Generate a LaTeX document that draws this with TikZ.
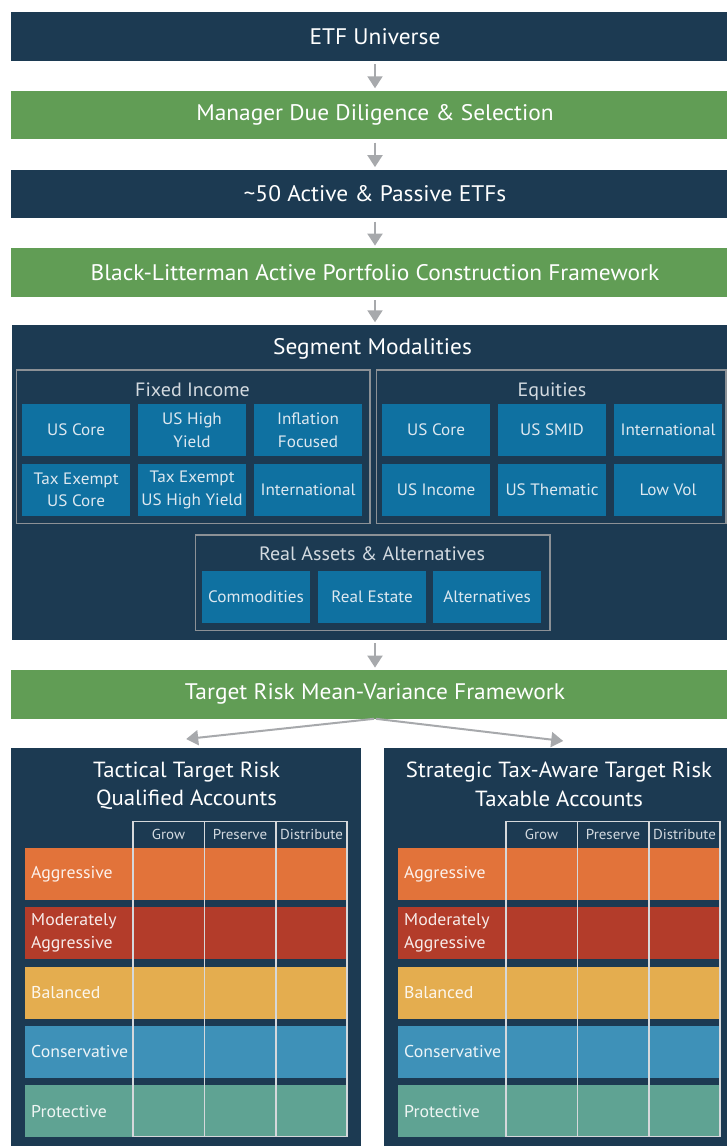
\documentclass[tikz,border=0pt]{standalone}
\usepackage{fontspec}
\setmainfont{PT Sans}[FakeStretch=1.04]
\usetikzlibrary{arrows.meta,calc}
\definecolor{navy}{HTML}{1C3A52}
\definecolor{bargreen}{HTML}{619D55}
\definecolor{cellblue}{HTML}{0F71A1}
\definecolor{grpgray}{HTML}{8C9196}
\definecolor{arrgray}{HTML}{A7A9AC}
\definecolor{gridgray}{HTML}{D5D8DB}
\definecolor{cagg}{HTML}{E2733A}
\definecolor{cmod}{HTML}{B33C2A}
\definecolor{cbal}{HTML}{E4AD4F}
\definecolor{ccon}{HTML}{3E91B8}
\definecolor{cpro}{HTML}{5FA393}
\definecolor{celltext}{HTML}{DDE8F0}
\definecolor{subtext}{HTML}{D3DAE0}
\begin{document}
\begin{tikzpicture}[x=1pt,y=-1pt,
  bar/.style={fill=navy, text=white, minimum width=728pt, minimum height=48.3pt, inner sep=0pt, anchor=north, font=\fontsize{22.5}{26}\selectfont},
  gbar/.style={bar, fill=bargreen},
  cell/.style={fill=cellblue, text=celltext, minimum width=107.7pt, minimum height=51.7pt, inner sep=0pt, align=center, anchor=north west, font=\fontsize{16.5}{22.5}\selectfont},
  grp/.style={draw=grpgray, line width=1.4pt, inner sep=0pt, anchor=north west},
  subttl/.style={text=subtext, inner sep=0pt, anchor=base, font=\fontsize{19.3}{23}\selectfont},
  arr/.style={draw=arrgray, line width=2pt, -{Triangle[width=15pt,length=12pt]}},
  panel/.style={fill=navy, minimum width=350pt, minimum height=402pt, inner sep=0pt, anchor=north west},
  ptitle/.style={text=white, align=center, inner sep=0pt, anchor=north, font=\fontsize{21.9}{28.7}\selectfont},
  rowbox/.style={minimum width=322pt, minimum height=52pt, inner sep=0pt, anchor=north west},
  rowlbl/.style={text=white, text opacity=0.9, align=left, anchor=west, inner sep=0pt, font=\fontsize{17.1}{23}\selectfont},
  hdr/.style={text=subtext, inner sep=0pt, font=\fontsize{14.4}{16}\selectfont},
  gridln/.style={draw=gridgray, line width=1.2pt}
]
\useasboundingbox (0,0) rectangle (726,1146);

% top bars
\node[bar]  (b1) at (375,12)    {ETF Universe};
\node[gbar] (b2) at (375,90.7)  {Manager Due Diligence \& Selection};
\node[bar]  (b3) at (375,169.5) {\textasciitilde50 Active \& Passive ETFs};
\node[gbar] (b4) at (375,248)   {Black-Litterman Active Portfolio Construction Framework};

\draw[arr, shorten <=3.3pt, shorten >=2.4pt] (b1.south) -- (b2.north);
\draw[arr, shorten <=3.3pt, shorten >=2.4pt] (b2.south) -- (b3.north);
\draw[arr, shorten <=3.3pt, shorten >=2.4pt] (b3.south) -- (b4.north);

% segment modalities
\node[fill=navy, minimum width=726pt, minimum height=315pt, inner sep=0pt, anchor=north] (seg) at (375,324.7) {};
\draw[arr, shorten <=3.3pt, shorten >=2.4pt] (b4.south) -- (seg.north);
\node[text=white, inner sep=0pt, font=\fontsize{22.5}{26}\selectfont] (segt) at (372.5,349) {Segment Modalities};

% fixed income
\node[grp, minimum width=353.6pt, minimum height=153.4pt] (fi) at (15.7,369.3) {};
\node[subttl] (fit) at (192.5,396) {Fixed Income};
\node[cell] (fi1) at (22,404)  {US Core};
\node[cell] (fi2) at (138,404) {US High\\Yield};
\node[cell] (fi3) at (254,404) {Inflation\\Focused};
\node[cell] (fi4) at (22,464)  {Tax Exempt\\US Core};
\node[cell] (fi5) at (138,464) {Tax Exempt\\US High Yield};
\node[cell] (fi6) at (254,464) {International};

% equities
\node[grp, minimum width=349.6pt, minimum height=153.4pt] (eq) at (375.7,369.3) {};
\node[subttl] (eqt) at (552,396) {Equities};
\node[cell] (eq1) at (382,404) {US Core};
\node[cell] (eq2) at (498,404) {US SMID};
\node[cell] (eq3) at (614,404) {International};
\node[cell] (eq4) at (382,464) {US Income};
\node[cell] (eq5) at (498,464) {US Thematic};
\node[cell] (eq6) at (614,464) {Low Vol};

% real assets
\node[grp, minimum width=354.3pt, minimum height=95.7pt] (ra) at (195,534.3) {};
\node[subttl] (rat) at (372,560.7) {Real Assets \& Alternatives};
\node[cell] (ra1) at (202,571) {Commodities};
\node[cell] (ra2) at (318,571) {Real Estate};
\node[cell] (ra3) at (433,571) {Alternatives};

% target risk bar
\node[gbar] (b5) at (375,670) {Target Risk Mean-Variance Framework};
\draw[arr, shorten <=3.3pt, shorten >=2.4pt] (seg.south) -- (b5.north);

% panels
\node[panel] (lp) at (11,748)  {};
\node[panel] (rp) at (384,748) {};
\draw[arr, shorten <=1pt] (b5.south) -- ($(lp.north)+(0,-9)$);
\draw[arr, shorten <=1pt] (b5.south) -- ($(rp.north)+(4,-7)$);

\node[ptitle] (lpt) at (186.5,761.5) {Tactical Target Risk\\Qualified Accounts};
\node[ptitle] (rpt) at (559,761.5) {Strategic Tax-Aware Target Risk\\Taxable Accounts};

\foreach \dx/\p in {0/L,373/R}{
  \foreach \i/\c/\t in {0/cagg/Aggressive,1/cmod/{Moderately\\Aggressive},2/cbal/Balanced,3/ccon/Conservative,4/cpro/Protective}{
    \node[rowbox, fill=\c] (\p r\i) at (25+\dx,847.7+59.3*\i) {};
    \node[rowlbl] (\p l\i) at ($(\p r\i.west)+(6,0)$) {\t};
  }
  \draw[gridln] (133+\dx,821.7) rectangle (347+\dx,1136.7);
  \draw[gridln] (204.3+\dx,821.7) -- (204.3+\dx,1136.7);
  \draw[gridln] (276+\dx,821.7) -- (276+\dx,1136.7);
  \node[hdr] (\p h1) at (168.5+\dx,834.5) {Grow};
  \node[hdr] (\p h2) at (240+\dx,834.5) {Preserve};
  \node[hdr] (\p h3) at (311.5+\dx,834.5) {Distribute};
}
\end{tikzpicture}
\end{document}
